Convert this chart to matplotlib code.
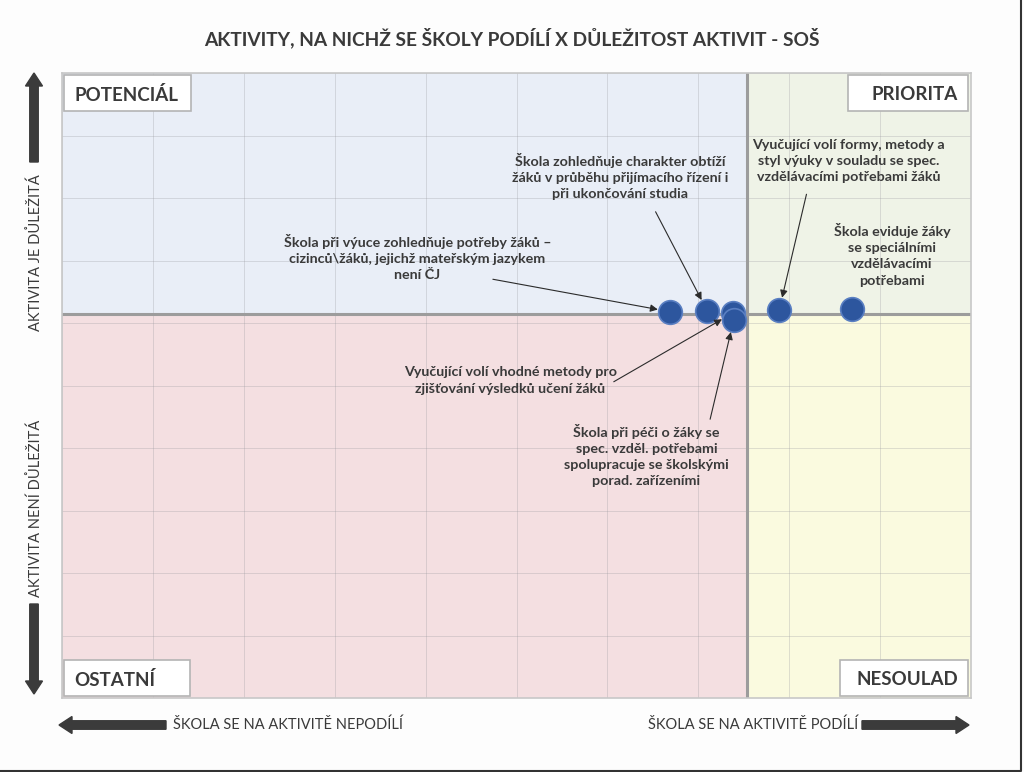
import numpy as np
import matplotlib.pyplot as plt
from matplotlib.patches import Rectangle, FancyArrow

plt.rcParams['font.family'] = ['Lato', 'DejaVu Sans']

# data (x: share of schools engaged, y: importance), 0-100 scale
labels = [
    "Škola při výuce zohledňuje potřeby žáků –\ncizinců\\žáků, jejichž mateřským jazykem\nnení ČJ",
    "Škola zohledňuje charakter obtíží\nžáků v průběhu přijímacího řízení i\npři ukončování studia",
    "Vyučující volí vhodné metody pro\nzjišťování výsledků učení žáků",
    "Škola při péči o žáky se\nspec. vzděl. potřebami\nspolupracuje se školskými\nporad. zařízeními",
    "Vyučující volí formy, metody a\nstyl výuky v souladu se spec.\nvzdělávacími potřebami žáků",
    "Škola eviduje žáky\nse speciálními\nvzdělávacími\npotřebami",
]
x_vals = [66.9, 71.0, 73.8, 73.9, 78.9, 86.9]
y_vals = [61.8, 61.9, 61.6, 60.5, 62.1, 62.2]
x_mid = 75.4
y_mid = 61.4

quad_names = ['POTENCIÁL', 'PRIORITA', 'OSTATNÍ', 'NESOULAD']

# label text position / arrow start, in data units
label_pos = [(39.1, 70.5), (61.4, 83.4), (49.3, 50.8), (64.3, 38.8), (86.5, 85.9), (91.3, 70.9)]
arrow_from = [(47.4, 67.0), (65.3, 77.8), (60.7, 50.6), (71.3, 44.6), (81.9, 80.6), None]

txt = '#3a3a3a'
fig = plt.figure(figsize=(10.24, 7.72), dpi=100)
fig.patch.set_facecolor('#fdfdfd')
ax = fig.add_axes([62/1024, 74/772, 909/1024, 625/772])
ax.set_xlim(0, 100)
ax.set_ylim(0, 100)

# quadrant backgrounds
ax.add_patch(Rectangle((0, y_mid), x_mid, 100 - y_mid, color='#e9eef7', zorder=0))
ax.add_patch(Rectangle((x_mid, y_mid), 100 - x_mid, 100 - y_mid, color='#eff3e7', zorder=0))
ax.add_patch(Rectangle((0, 0), x_mid, y_mid, color='#f4dfe1', zorder=0))
ax.add_patch(Rectangle((x_mid, 0), 100 - x_mid, y_mid, color='#fafadf', zorder=0))

ax.set_xticks(np.arange(0, 101, 10))
ax.set_yticks(np.arange(0, 101, 10))
ax.grid(True, color='#9a9aa0', lw=0.6, alpha=0.35, zorder=1)
ax.tick_params(length=0, labelbottom=False, labelleft=False)
for s in ax.spines.values():
    s.set_color('#c8c8c8')
    s.set_linewidth(1.2)

ax.axvline(x_mid, color='#9c9c9c', lw=2.2, zorder=2)
ax.axhline(y_mid, color='#9c9c9c', lw=2.2, zorder=2)

ax.scatter(x_vals, y_vals, s=290, color='#2d569e', edgecolor='#5a7fc2', lw=1.2, zorder=4)

for lab, (tx, ty), src, px, py in zip(labels, label_pos, arrow_from, x_vals, y_vals):
    ax.text(tx, ty, lab, ha='center', va='center', fontsize=10.3, fontweight='bold',
            color=txt, linespacing=1.42, zorder=5)
    if src is not None:
        ax.annotate('', xy=(px, py), xytext=src,
                    arrowprops=dict(arrowstyle='-|>', color='#2b2b2b', lw=0.8,
                                    shrinkA=0, shrinkB=9, mutation_scale=11), zorder=5)

# quadrant name boxes (axes fraction)
boxes = [(0.0022, 0.939, 0.1397), (0.8647, 0.939, 0.132), (0.0022, 0.0032, 0.1386), (0.8559, 0.0032, 0.1408)]
for (bx, by, bw), name, i in zip(boxes, quad_names, range(4)):
    ax.add_patch(Rectangle((bx, by), bw, 0.0576, transform=ax.transAxes, fc='white',
                           ec='#b4b4b4', lw=1.2, zorder=6))
    if i % 2 == 0:
        ax.text(0.0138, by + 0.026, name, transform=ax.transAxes, ha='left', va='center',
                fontsize=13.5, fontweight='bold', color=txt, zorder=7)
    else:
        ax.text(0.9857, by + 0.026, name, transform=ax.transAxes, ha='right', va='center',
                fontsize=13.5, fontweight='bold', color=txt, zorder=7)

fig.text(0.5, 1 - 38/772, 'AKTIVITY, NA NICHŽ SE ŠKOLY PODÍLÍ X DŮLEŽITOST AKTIVIT - SOŠ',
         ha='center', va='center', fontsize=13.8, fontweight='bold', color=txt)

fig.text(36/1024, 1 - 253/772, 'AKTIVITA JE DŮLEŽITÁ', rotation=90, ha='center', va='center',
         fontsize=10.5, color=txt)
fig.text(36/1024, 1 - 508/772, 'AKTIVITA NENÍ DŮLEŽITÁ', rotation=90, ha='center', va='center',
         fontsize=10.5, color=txt)
fig.text(173/1024, 1 - 725/772, 'ŠKOLA SE NA AKTIVITĚ NEPODÍLÍ', ha='left', va='center',
         fontsize=10.5, color=txt)
fig.text(858/1024, 1 - 725/772, 'ŠKOLA SE NA AKTIVITĚ PODÍLÍ', ha='right', va='center',
         fontsize=10.5, color=txt)

# big arrows (positions in pixels -> inches)
def big_arrow(x0, y0, x1, y1):
    fig.patches.append(FancyArrow(x0/100, (772-y0)/100, (x1-x0)/100, -(y1-y0)/100,
                                  width=0.085, head_width=0.17, head_length=0.13,
                                  length_includes_head=True, color='#3b3b3b',
                                  transform=fig.dpi_scale_trans, figure=fig))

big_arrow(34, 162, 34, 73)
big_arrow(34, 604, 34, 694)
big_arrow(166, 725, 59, 725)
big_arrow(862, 725, 969, 725)

# thin dark frame on right and bottom edge of the screenshot
fig.add_artist(plt.Line2D([1021/1024, 1021/1024, 0], [1, 1.5/772, 1.5/772],
                          transform=fig.transFigure, color='#333333', lw=1.5))

fig.savefig('out.png', dpi=100, facecolor=fig.get_facecolor())
